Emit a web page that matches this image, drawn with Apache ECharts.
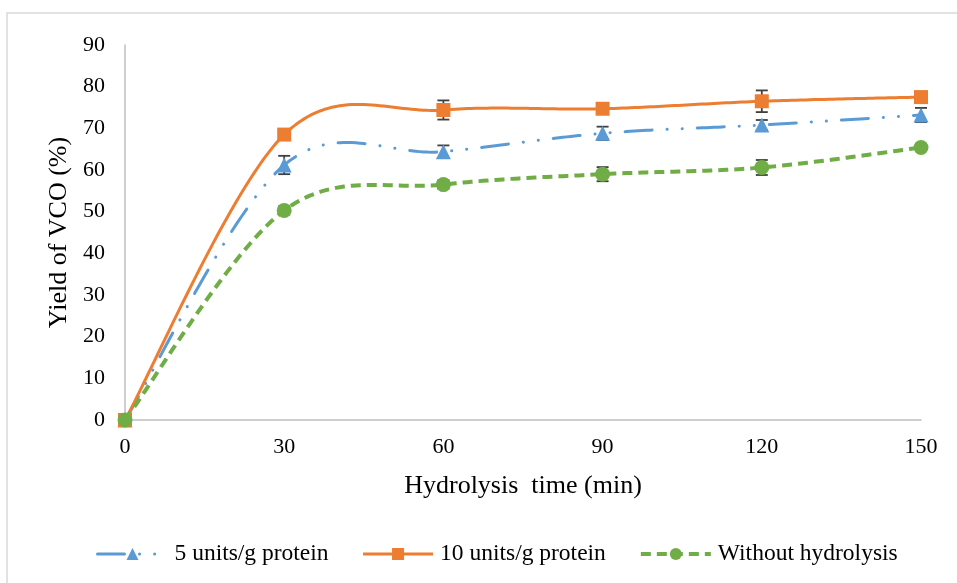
<!DOCTYPE html>
<html>
<head>
<meta charset="utf-8">
<script src="https://cdn.jsdelivr.net/npm/echarts@6/dist/echarts.min.js"></script>
<style>
  html, body { margin: 0; padding: 0; background: #fff; }
  #chart { width: 957px; height: 583px; }
</style>
</head>
<body>
<div id="chart"></div>
<script>
// Hydrolysis time (min)
var times = [0, 30, 60, 90, 120, 150];
// Yield of VCO (%) per enzyme dose
var yield5 = [0, 61.2, 64.4, 68.8, 70.8, 73.2];
var yield10 = [0, 68.5, 74.4, 74.7, 76.5, 77.5];
var yieldNone = [0, 50.3, 56.5, 59.0, 60.6, 65.4];
// Standard deviations (error bars)
var err5 = [0, 2.2, 1.5, 1.6, 1.2, 1.7];
var err10 = [0, 1.0, 2.3, 0.5, 2.6, 1.0];
var errNone = [0, 1.0, 1.0, 1.7, 1.8, 0.6];

var seriesNames = ['5 units/g protein', '10 units/g protein', 'Without hydrolysis'];
var xTicks = [0, 30, 60, 90, 120, 150];
var yTicks = [0, 10, 20, 30, 40, 50, 60, 70, 80, 90];

var FONT = '"Liberation Serif", "Times New Roman", serif';
var BLUE = '#5b9bd5', ORANGE = '#ed7d31', GREEN = '#70ad47';

var blueLine = { color: BLUE, width: 3, type: [27, 15, 0.1, 15, 0.1, 15], cap: 'round' };
var orangeLine = { color: ORANGE, width: 3, type: 'solid', cap: 'butt' };
var greenLine = { color: GREEN, width: 4, type: [10, 6], cap: 'butt' };

function pairs(ys) {
  return times.map(function (t, i) { return [t, ys[i]]; });
}

// Error bars with caps, drawn beneath the markers
function errorSeries(ys, errs) {
  return {
    type: 'custom',
    z: 1,
    silent: true,
    data: times.map(function (t, i) { return [t, ys[i], errs[i]]; }),
    renderItem: function (params, api) {
      var x = api.value(0), y = api.value(1), e = api.value(2);
      if (!e) return null;
      var hi = api.coord([x, y + e]);
      var lo = api.coord([x, y - e]);
      var w = 6;
      var style = { stroke: '#404040', lineWidth: 1.8 };
      return {
        type: 'group',
        children: [
          { type: 'line', shape: { x1: hi[0], y1: hi[1], x2: lo[0], y2: lo[1] }, style: style },
          { type: 'line', shape: { x1: hi[0] - w, y1: hi[1], x2: hi[0] + w, y2: hi[1] }, style: style },
          { type: 'line', shape: { x1: lo[0] - w, y1: lo[1], x2: lo[0] + w, y2: lo[1] }, style: style }
        ]
      };
    }
  };
}

// Smoothed connecting curve (Catmull-Rom style cubic segments in screen space)
function curveSeries(ys, ls) {
  return {
    type: 'custom',
    z: 2,
    silent: true,
    data: pairs(ys),
    renderItem: function (params, api) {
      if (params.dataIndex !== 0) return null;
      var P = times.map(function (t, i) { return api.coord([t, ys[i]]); });
      var n = P.length;
      var pts = [];
      var steps = 40;
      for (var i = 0; i < n - 1; i++) {
        var p0 = P[Math.max(i - 1, 0)], p1 = P[i], p2 = P[i + 1], p3 = P[Math.min(i + 2, n - 1)];
        var c1 = [p1[0] + (p2[0] - p0[0]) / 6, p1[1] + (p2[1] - p0[1]) / 6];
        var c2 = [p2[0] - (p3[0] - p1[0]) / 6, p2[1] - (p3[1] - p1[1]) / 6];
        for (var s = (i === 0 ? 0 : 1); s <= steps; s++) {
          var t = s / steps, u = 1 - t;
          pts.push([
            u * u * u * p1[0] + 3 * u * u * t * c1[0] + 3 * u * t * t * c2[0] + t * t * t * p2[0],
            u * u * u * p1[1] + 3 * u * u * t * c1[1] + 3 * u * t * t * c2[1] + t * t * t * p2[1]
          ]);
        }
      }
      return {
        type: 'polyline',
        shape: { points: pts },
        style: {
          fill: null,
          stroke: ls.color,
          lineWidth: ls.width,
          lineDash: ls.type === 'solid' ? null : ls.type,
          lineCap: ls.cap,
          lineJoin: 'round'
        }
      };
    }
  };
}

function markerSeries(name, ys, symbol, size, color) {
  return {
    name: name,
    type: 'line',
    z: 3,
    data: pairs(ys),
    symbol: symbol,
    symbolSize: size,
    itemStyle: { color: color },
    lineStyle: { color: color, opacity: 0 }
  };
}

var chart = echarts.init(document.getElementById('chart'), null, { renderer: 'canvas' });

chart.setOption({
  animation: false,
  backgroundColor: '#ffffff',
  textStyle: { fontFamily: FONT },
  graphic: [{
    type: 'rect',
    shape: { x: 7, y: 13, width: 1000, height: 1000 },
    style: { fill: 'none', stroke: '#d9d9d9', lineWidth: 1.5 },
    silent: true,
    z: -10
  }],
  grid: { left: 125, right: 36, top: 45, bottom: 163 },
  legend: {
    top: 537,
    left: 91,
    itemGap: 33,
    itemWidth: 70,
    itemHeight: 15,
    textStyle: { fontFamily: FONT, fontSize: 23.5, color: '#000', padding: [0, 0, 0, 2] },
    data: [
      { name: seriesNames[0], lineStyle: Object.assign({ opacity: 1 }, blueLine) },
      { name: seriesNames[1], lineStyle: Object.assign({ opacity: 1 }, orangeLine) },
      { name: seriesNames[2], lineStyle: Object.assign({ opacity: 1 }, greenLine) }
    ]
  },
  xAxis: {
    type: 'value',
    min: 0,
    max: 150,
    interval: 30,
    name: 'Hydrolysis  time (min)',
    nameLocation: 'middle',
    nameGap: 53,
    nameTextStyle: { fontFamily: FONT, fontSize: 26, color: '#000' },
    axisLine: { lineStyle: { color: '#bfbfbf', width: 1.5 } },
    axisTick: { show: false },
    splitLine: { show: false },
    axisLabel: {
      fontFamily: FONT, fontSize: 22, color: '#000', margin: 16,
      formatter: function (v) { return xTicks.indexOf(v) >= 0 ? String(v) : ''; }
    }
  },
  yAxis: {
    type: 'value',
    min: 0,
    max: 90,
    interval: 10,
    name: 'Yield of VCO (%)',
    nameLocation: 'middle',
    nameGap: 50,
    nameTextStyle: { fontFamily: FONT, fontSize: 26, color: '#000' },
    axisLine: { show: true, lineStyle: { color: '#bfbfbf', width: 1.5 } },
    axisTick: { show: false },
    splitLine: { show: false },
    axisLabel: {
      fontFamily: FONT, fontSize: 22, color: '#000', margin: 20,
      formatter: function (v) { return yTicks.indexOf(v) >= 0 ? String(v) : ''; }
    }
  },
  series: [
    errorSeries(yield5, err5),
    errorSeries(yield10, err10),
    errorSeries(yieldNone, errNone),
    curveSeries(yield5, blueLine),
    curveSeries(yield10, orangeLine),
    curveSeries(yieldNone, greenLine),
    markerSeries(seriesNames[0], yield5, 'triangle', 15, BLUE),
    markerSeries(seriesNames[1], yield10, 'rect', 14, ORANGE),
    markerSeries(seriesNames[2], yieldNone, 'circle', 15, GREEN)
  ]
});
</script>
</body>
</html>
